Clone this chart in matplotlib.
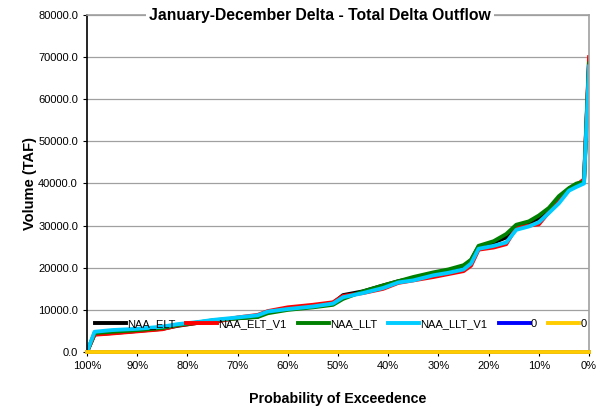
import matplotlib.pyplot as plt
import numpy as np

plt.rcParams['font.family'] = ['Liberation Sans', 'DejaVu Sans']

# exceedance probability (%)
prob = [100, 98.5, 95, 90, 85, 82, 78, 75, 70, 66, 64, 60, 55, 51, 49, 45, 41, 38,
        35, 31, 28, 25, 23.5, 22, 19, 16.5, 14.5, 12, 10, 8, 6, 4, 2.5, 1, 0]

naa_elt = [0, 4200, 4500, 5000, 5500, 6200, 6900, 7400, 8000, 8400, 9500, 10300, 11000,
           11600, 13500, 14400, 15800, 16800, 17500, 18600, 19400, 20200, 21800, 25000,
           26000, 27200, 30000, 30600, 31800, 33800, 36500, 38800, 39800, 40600, 69000]
naa_elt_v1 = [0, 4100, 4400, 4900, 5400, 6300, 6900, 7000, 8200, 8800, 9700, 10600, 11200,
              11800, 13300, 14000, 15000, 16400, 17000, 17800, 18500, 19200, 20500, 24300,
              24800, 25600, 29500, 30000, 30300, 33200, 36400, 38600, 39600, 41000, 70000]
naa_llt = [0, 4500, 4800, 5200, 5700, 6400, 7000, 7500, 8000, 8300, 9200, 10000, 10600,
           11200, 12600, 14400, 15800, 16800, 17800, 18900, 19600, 20600, 21900, 25200,
           26300, 28000, 30200, 31000, 32400, 34200, 37000, 38900, 40000, 40300, 68500]
naa_llt_v1 = [0, 4800, 5200, 5500, 6000, 6600, 7100, 7600, 8200, 8700, 9600, 10200, 10800,
              11500, 13000, 14000, 15200, 16500, 17000, 18200, 18800, 19600, 21000, 24500,
              25200, 26000, 29000, 29800, 30800, 33000, 35300, 38300, 39200, 40000, 67800]
zero_a = [0] * len(prob)
zero_b = [0] * len(prob)

fig = plt.figure(figsize=(5.98, 4.09), dpi=100)
ax = fig.add_axes([0.1455, 0.1394, 0.8395, 0.8239])

lw = 2.8
ax.plot(prob, naa_elt, color='black', lw=lw, label='NAA_ELT')
ax.plot(prob, naa_elt_v1, color='#ff0000', lw=lw, label='NAA_ELT_V1')
ax.plot(prob, naa_llt, color='#008000', lw=lw, label='NAA_LLT')
ax.plot(prob, naa_llt_v1, color='#00ccff', lw=lw, label='NAA_LLT_V1')
ax.plot(prob, zero_a, color='#0000ff', lw=lw, label='0', zorder=4, clip_on=False)
ax.plot(prob, zero_b, color='#ffcc00', lw=lw, label='0', zorder=5, clip_on=False)

ax.set_xlim(100, 0)
ax.set_ylim(0, 80000)
ax.set_xticks(np.arange(100, -1, -10))
ax.set_xticklabels([f'{v}%' for v in range(100, -1, -10)])
ax.set_yticks(np.arange(0, 80001, 10000))
ax.set_yticklabels([f'{v:.1f}' for v in np.arange(0, 80001, 10000)])
ax.tick_params(labelsize=8, length=3, width=0.8, colors='#000000')
ax.yaxis.grid(True, color='#a0a0a0', lw=0.9)
ax.set_axisbelow(True)

ax.spines['left'].set_color('black')
ax.spines['left'].set_linewidth(1.2)
for s in ('top', 'right', 'bottom'):
    ax.spines[s].set_color('#a0a0a0')
    ax.spines[s].set_linewidth(1.2)

ax.set_xlabel('Probability of Exceedence', fontsize=10.3, fontweight='bold', labelpad=15)
ax.set_ylabel('Volume (TAF)', fontsize=10.5, fontweight='bold', labelpad=0.5)

ax.text(0.464, 1.0, 'January-December Delta - Total Delta Outflow', transform=ax.transAxes,
        ha='center', va='center', fontsize=11.3, fontweight='bold',
        bbox=dict(facecolor='white', edgecolor='none', pad=2))

ax.legend(loc='lower center', bbox_to_anchor=(0.505, 0.055), ncol=6, frameon=False,
          fontsize=8, handlelength=2.8, handletextpad=0.1, columnspacing=1.0,
          borderaxespad=0)

fig.savefig('out.png', dpi=100)
